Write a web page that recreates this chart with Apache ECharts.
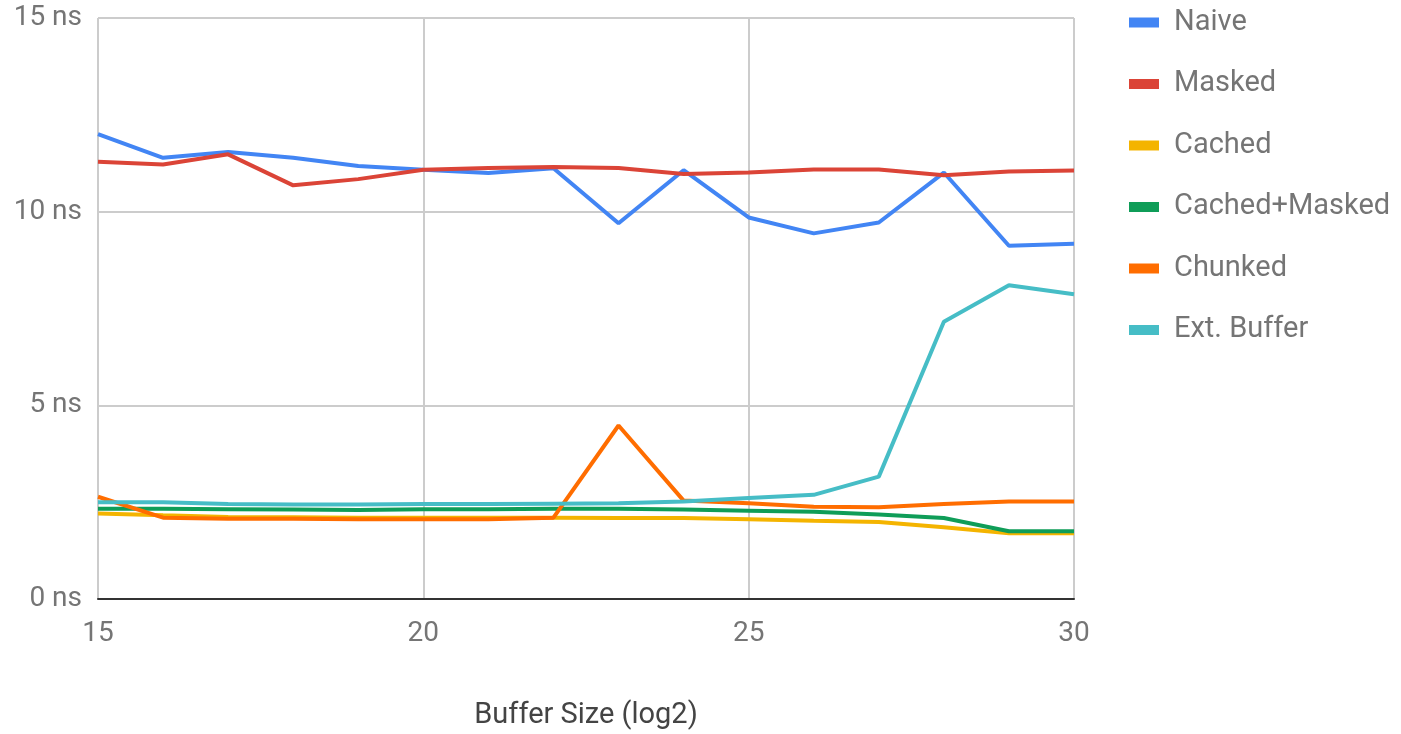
<!DOCTYPE html>
<html>
<head>
<meta charset="utf-8">
<script src="https://cdn.jsdelivr.net/npm/echarts@6/dist/echarts.min.js"></script>
<style>
  html, body { margin: 0; padding: 0; background: #fff; overflow: hidden; }
  #chart { width: 1401px; height: 734px; }
</style>
</head>
<body>
<div id="chart"></div>
<script>
// buffer size (log2)
const bufferSizes = [15, 16, 17, 18, 19, 20, 21, 22, 23, 24, 25, 26, 27, 28, 29, 30];

// ns per op
const naive        = [12.0, 11.39, 11.54, 11.39, 11.18, 11.08, 11.0, 11.12, 9.70, 11.07, 9.85, 9.44, 9.72, 11.01, 9.12, 9.17];
const masked       = [11.29, 11.22, 11.48, 10.68, 10.84, 11.08, 11.13, 11.15, 11.13, 10.97, 11.01, 11.09, 11.09, 10.94, 11.04, 11.06];
const cached       = [2.21, 2.16, 2.12, 2.11, 2.10, 2.10, 2.10, 2.10, 2.09, 2.09, 2.06, 2.02, 1.99, 1.85, 1.70, 1.70];
const cachedMasked = [2.33, 2.33, 2.32, 2.31, 2.30, 2.32, 2.32, 2.33, 2.33, 2.31, 2.28, 2.25, 2.18, 2.09, 1.75, 1.75];
const chunked      = [2.64, 2.10, 2.07, 2.07, 2.06, 2.06, 2.06, 2.10, 4.48, 2.54, 2.47, 2.38, 2.37, 2.45, 2.52, 2.52];
const extBuffer    = [2.50, 2.50, 2.45, 2.44, 2.44, 2.45, 2.45, 2.46, 2.47, 2.52, 2.61, 2.69, 3.16, 7.16, 8.10, 7.87];

const seriesNames = ['Naive', 'Masked', 'Cached', 'Cached+Masked', 'Chunked', 'Ext. Buffer'];
const seriesData = [naive, masked, cached, cachedMasked, chunked, extBuffer];
const colors = ['#4285F4', '#DB4437', '#F4B400', '#0F9D58', '#FF6D00', '#46BDC6'];

const chart = echarts.init(document.getElementById('chart'), null, { width: 1401, height: 734 });

const option = {
  backgroundColor: '#fff',
  color: colors,
  animation: false,
  textStyle: { fontFamily: 'Roboto' },
  grid: { left: 98, right: 327, top: 18, bottom: 135, containLabel: false, outerBoundsMode: 'none' },
  legend: {
    orient: 'vertical',
    left: 1124,
    top: 3,
    icon: 'rect',
    itemWidth: 30,
    itemHeight: 10,
    itemGap: 32.5,
    textStyle: { fontSize: 29, color: '#757575', lineHeight: 29, padding: [0, 0, 0, 10] },
    data: seriesNames
  },
  xAxis: {
    type: 'value',
    min: 15,
    max: 30,
    interval: 5,
    name: 'Buffer Size (log2)',
    nameLocation: 'middle',
    nameGap: 102,
    nameTextStyle: { fontSize: 29, color: '#444' },
    axisLine: { show: true, lineStyle: { color: '#333', width: 2 } },
    axisTick: { show: false },
    axisLabel: { fontSize: 28, color: '#757575', margin: 21 },
    splitLine: { show: true, lineStyle: { color: '#ccc', width: 2 } }
  },
  yAxis: {
    type: 'value',
    min: 0,
    max: 15,
    interval: 5,
    axisLine: { show: false },
    axisTick: { show: false },
    axisLabel: { fontSize: 28, color: '#757575', margin: 16, formatter: '{value} ns' },
    splitLine: { show: true, lineStyle: { color: '#ccc', width: 2 } }
  },
  series: seriesNames.map((name, i) => ({
    name: name,
    type: 'line',
    showSymbol: false,
    data: bufferSizes.map((x, j) => [x, seriesData[i][j]]),
    lineStyle: { width: 4 }
  }))
};

chart.setOption(option);
</script>
</body>
</html>
